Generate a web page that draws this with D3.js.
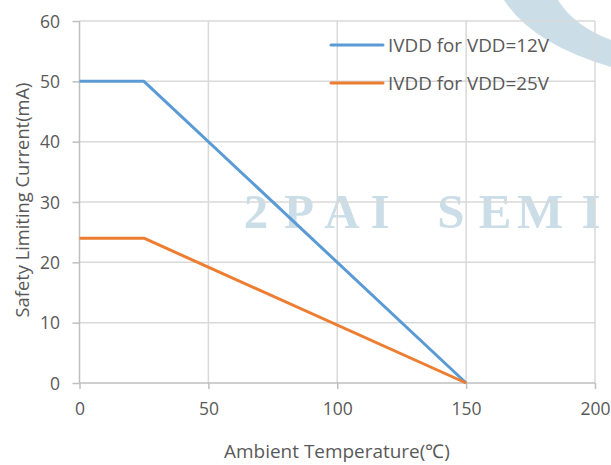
<!DOCTYPE html>
<html><head><meta charset="utf-8">
<script src="https://cdn.jsdelivr.net/npm/d3@7"></script>
<style>html,body{margin:0;padding:0;background:#fff;}svg{display:block;}</style>
</head><body>
<svg id="c" width="611" height="465"></svg>
<script>
const temps12 = [0, 25, 150];
const ivdd12 = [50, 50, 0];
const temps25 = [0, 25, 150];
const ivdd25 = [24, 24, 0];
const seriesNames = ["IVDD for VDD=12V", "IVDD for VDD=25V"];
const xTicks = [0, 50, 100, 150, 200];
const yTicks = [0, 10, 20, 30, 40, 50, 60];
const xTitle = "Ambient Temperature(℃)";
const yTitle = "Safety Limiting Current(mA)";
const watermark = ["2","P","A","I","S","E","M","I"];
const watermarkX = [256, 299, 342, 380, 451, 495, 540, 591];

const svg = d3.select("#c");
const font = "'Open Sans', sans-serif";
const textColor = "#595959";
const x = d3.scaleLinear().domain([0, 200]).range([79.5, 595]);
const y = d3.scaleLinear().domain([0, 60]).range([383, 21]);
const colors = ["#5b9bd5", "#ed7d31"];
const wmColor = "#cbdde7";

function fit(sel, target) {
  const w = sel.node().getComputedTextLength();
  const fs = +sel.attr("font-size");
  sel.attr("font-size", (fs * target / w).toFixed(2));
}

// watermark
svg.append("path").attr("d", "M504,0 Q532,44 611,67 L611,40 Q574,26 558,0 Z").attr("fill", wmColor);
svg.append("g").selectAll("text").data(watermark).join("text")
  .attr("x", (d,i)=>watermarkX[i]).attr("y", 228)
  .attr("text-anchor", "middle")
  .attr("font-family", "'Liberation Serif', 'DejaVu Serif', serif")
  .attr("font-weight", "bold").attr("font-size", 49)
  .attr("fill", wmColor).text(d=>d);

// grid
const g = svg.append("g");
g.selectAll(".gx").data(xTicks.filter(d=>d>0)).join("line")
  .attr("x1", d=>x(d)).attr("x2", d=>x(d)).attr("y1", y(60)).attr("y2", y(0))
  .attr("stroke", "#d9d9d9").attr("stroke-width", 1.5);
g.selectAll(".gy").data(yTicks.filter(d=>d>0)).join("line")
  .attr("x1", x(0)).attr("x2", x(200)).attr("y1", d=>y(d)).attr("y2", d=>y(d))
  .attr("stroke", "#d9d9d9").attr("stroke-width", 1.5);

// axes
const xAxis = d3.axisBottom(x).tickValues(xTicks).tickSize(6).tickPadding(14);
const yAxis = d3.axisLeft(y).tickValues(yTicks).tickSize(7).tickPadding(12.5);
const gx = svg.append("g").attr("transform", `translate(0,${y(0)})`).call(xAxis);
const gy = svg.append("g").attr("transform", `translate(${x(0)},0)`).call(yAxis);
[gx, gy].forEach(a => {
  a.select(".domain").attr("stroke", "#bfbfbf").attr("stroke-width", 1.5);
  a.selectAll(".tick line").attr("stroke", "#bfbfbf").attr("stroke-width", 1.5);
  a.selectAll(".tick text").attr("fill", textColor).attr("font-size", 17.5).attr("font-family", font);
});
gy.select(".domain").attr("d", `M0,${y(60)}V${y(0)}`);
gx.select(".domain").attr("d", `M${x(0)},0H${x(200)}`);
gy.selectAll(".tick text").attr("dy", "0.36em");

// lines
const line = d3.line().x(d=>x(d[0])).y(d=>y(d[1]));
const data = [d3.zip(temps12, ivdd12), d3.zip(temps25, ivdd25)];
svg.append("g").selectAll("path").data(data).join("path")
  .attr("d", line).attr("fill", "none")
  .attr("stroke", (d,i)=>colors[i]).attr("stroke-width", 3).attr("stroke-linejoin", "round");

// legend
const lg = svg.append("g");
seriesNames.forEach((n,i)=>{
  const ly = 45 + i*38;
  lg.append("line").attr("x1", 331).attr("x2", 383).attr("y1", ly).attr("y2", ly)
    .attr("stroke", colors[i]).attr("stroke-width", 3).attr("stroke-linecap", "round");
  const t = lg.append("text").attr("x", 388).attr("y", ly).attr("dy", "0.36em")
    .attr("font-family", font).attr("font-size", 18).attr("fill", textColor).text(n);
  fit(t, 161);
});

// titles
const xt = svg.append("text").attr("x", 337).attr("y", 458).attr("text-anchor", "middle")
  .attr("font-family", font).attr("font-size", 17).attr("fill", textColor).text(xTitle);
fit(xt, 226);
const yt = svg.append("text").attr("transform", "translate(29,200) rotate(-90)").attr("text-anchor", "middle")
  .attr("font-family", font).attr("font-size", 17).attr("fill", textColor).text(yTitle);
fit(yt, 235);
</script>
</body></html>
